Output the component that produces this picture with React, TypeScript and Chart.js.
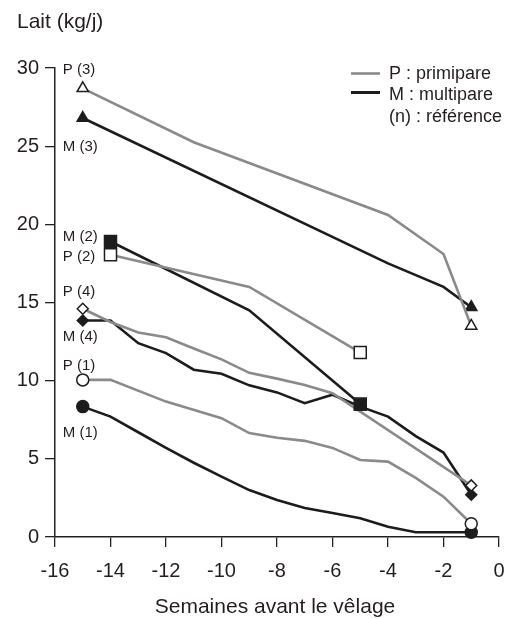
import React, { useEffect, useRef } from "react";
import { Chart, registerables } from "chart.js";
Chart.register(...registerables);

// ---- data (weeks before calving, milk kg/day) ----
const weeksP1 = [-15, -14, -12, -10, -9, -8, -7, -6, -5, -4, -3, -2, -1];
const valuesP1 = [10.05, 10.05, 8.66, 7.6, 6.65, 6.35, 6.15, 5.7, 4.93, 4.82, 3.78, 2.58, 0.85];
const weeksM1 = [-15, -14, -13, -12, -11, -10, -9, -8, -7, -6, -5, -4, -3, -2, -1];
const valuesM1 = [8.34, 7.7, 6.7, 5.7, 4.75, 3.86, 3.0, 2.37, 1.86, 1.54, 1.2, 0.66, 0.3, 0.3, 0.3];
const weeksP2 = [-14, -9, -5];
const valuesP2 = [18.05, 16.0, 11.8];
const weeksM2 = [-14, -9, -5];
const valuesM2 = [18.9, 14.5, 8.5];
const weeksP3 = [-15, -11, -4, -2, -1];
const valuesP3 = [28.7, 25.25, 20.6, 18.1, 13.5];
const weeksM3 = [-15, -4, -2, -1];
const valuesM3 = [26.8, 17.5, 16.0, 14.7];
const weeksP4 = [-15, -14, -13, -12, -11, -10, -9, -8, -7, -6, -1];
const valuesP4 = [14.6, 13.75, 13.08, 12.78, 12.06, 11.36, 10.5, 10.13, 9.73, 9.2, 3.3];
const weeksM4 = [-15, -14, -13, -12, -11, -10, -9, -8, -7, -6, -5, -4, -3, -2, -1];
const valuesM4 = [13.85, 13.85, 12.4, 11.76, 10.7, 10.44, 9.7, 9.25, 8.56, 9.1, 8.34, 7.7, 6.45, 5.4, 2.7];

const seriesNames = ["P (3)", "M (3)", "M (2)", "P (2)", "P (4)", "M (4)", "P (1)", "M (1)"];
const labelWeek = -15.72;
const labelValues = [29.85, 24.95, 19.17, 17.9, 15.67, 12.78, 10.97, 6.64];

const xTicks = [-16, -14, -12, -10, -8, -6, -4, -2, 0];
const yTicks = [0, 5, 10, 15, 20, 25, 30];

const legendItems = ["P : primipare", "M : multipare", "(n) : référence"];
const yTitle = "Lait (kg/j)";
const xTitle = "Semaines avant le vêlage";

const FONT = "'Liberation Sans', Arial, Helvetica, sans-serif";
const GRAY = "#8a8a8a";
const BLACK = "#1c1c1c";
const TEXT = "#231f20";

function pts(w: number[], v: number[]) {
  return w.map((x, i) => ({ x, y: v[i] }));
}

function makeSet(
  w: number[],
  v: number[],
  color: string,
  style: string,
  filled: boolean,
  radius: number
) {
  const last = w.length - 1;
  return {
    data: pts(w, v),
    borderColor: color,
    borderWidth: 2.6,
    tension: 0,
    fill: false,
    pointStyle: style,
    pointRadius: (c: any) => (c.dataIndex === 0 || c.dataIndex === last ? radius : 0),
    pointHoverRadius: 0,
    pointBackgroundColor: filled ? BLACK : "#ffffff",
    pointBorderColor: "#1e1e1e",
    pointBorderWidth: 1.5,
    clip: false,
  };
}

const annotPlugin = {
  id: "annot",
  afterDatasetsDraw(chart: any) {
    const { ctx, scales } = chart;
    const x = scales.x;
    const y = scales.y;
    ctx.save();
    ctx.fillStyle = TEXT;
    // series labels
    ctx.font = `15px ${FONT}`;
    ctx.textAlign = "left";
    ctx.textBaseline = "middle";
    seriesNames.forEach((n, i) => {
      ctx.fillText(n, x.getPixelForValue(labelWeek), y.getPixelForValue(labelValues[i]));
    });
    // titles
    ctx.font = `21px ${FONT}`;
    ctx.fillText(yTitle, 17, 22);
    ctx.textAlign = "center";
    ctx.fillText(xTitle, (x.left + x.right) / 2 - 2, 607);
    // legend
    ctx.lineWidth = 2.6;
    ctx.strokeStyle = GRAY;
    ctx.beginPath();
    ctx.moveTo(351, 73.5);
    ctx.lineTo(380, 73.5);
    ctx.stroke();
    ctx.strokeStyle = BLACK;
    ctx.lineWidth = 3;
    ctx.beginPath();
    ctx.moveTo(351, 92.5);
    ctx.lineTo(380, 92.5);
    ctx.stroke();
    ctx.font = `18px ${FONT}`;
    ctx.textAlign = "left";
    const ys = [74, 95.5, 117];
    legendItems.forEach((t, i) => ctx.fillText(t, 389, ys[i]));
    ctx.restore();
  },
};

export default function App() {
  const ref = useRef<HTMLCanvasElement | null>(null);
  useEffect(() => {
    document.body.style.margin = "0";
    const canvas = ref.current;
    if (!canvas) return;
    const chart = new Chart(canvas, {
      type: "line",
      data: {
        datasets: [
          makeSet(weeksP3, valuesP3, GRAY, "triangle", false, 6.5),
          makeSet(weeksM3, valuesM3, BLACK, "triangle", true, 6.5),
          makeSet(weeksP2, valuesP2, GRAY, "rect", false, 8.5),
          makeSet(weeksM2, valuesM2, BLACK, "rect", true, 8.5),
          makeSet(weeksP4, valuesP4, GRAY, "rectRot", false, 5.5),
          makeSet(weeksM4, valuesM4, BLACK, "rectRot", true, 5.5),
          makeSet(weeksP1, valuesP1, GRAY, "circle", false, 6),
          makeSet(weeksM1, valuesM1, BLACK, "circle", true, 6),
        ] as any,
      },
      options: {
        animation: false,
        responsive: false,
        devicePixelRatio: 1,
        layout: { padding: { top: 68, right: 21, left: 0, bottom: 0 } },
        plugins: { legend: { display: false }, tooltip: { enabled: false } },
        events: [],
        scales: {
          x: {
            type: "linear",
            min: -16,
            max: 0,
            afterBuildTicks: (s: any) => {
              s.ticks = xTicks.map((v) => ({ value: v }));
            },
            ticks: {
              color: TEXT,
              font: { family: FONT, size: 20 },
              padding: 12,
              maxRotation: 0,
              callback: (v: any) => String(v),
            },
            grid: {
              drawOnChartArea: false,
              drawTicks: true,
              tickLength: 10,
              color: "#222",
              lineWidth: 1.3,
            },
            border: { display: true, color: "#222", width: 1.5 },
            afterFit: (s: any) => {
              s.height = 82;
            },
          },
          y: {
            type: "linear",
            min: 0,
            max: 30,
            afterBuildTicks: (s: any) => {
              s.ticks = yTicks.map((v) => ({ value: v }));
            },
            ticks: {
              color: TEXT,
              font: { family: FONT, size: 20 },
              padding: 6,
              callback: (v: any) => String(v),
            },
            grid: {
              drawOnChartArea: false,
              drawTicks: true,
              tickLength: 10,
              color: "#222",
              lineWidth: 1.3,
            },
            border: { display: true, color: "#222", width: 1.5 },
            afterFit: (s: any) => {
              s.width = 55;
            },
          },
        },
      } as any,
      plugins: [annotPlugin],
    });
    return () => chart.destroy();
  }, []);
  return (
    <div style={{ width: 520, height: 619 }}>
      <canvas ref={ref} width={520} height={619} style={{ display: "block" }} />
    </div>
  );
}
